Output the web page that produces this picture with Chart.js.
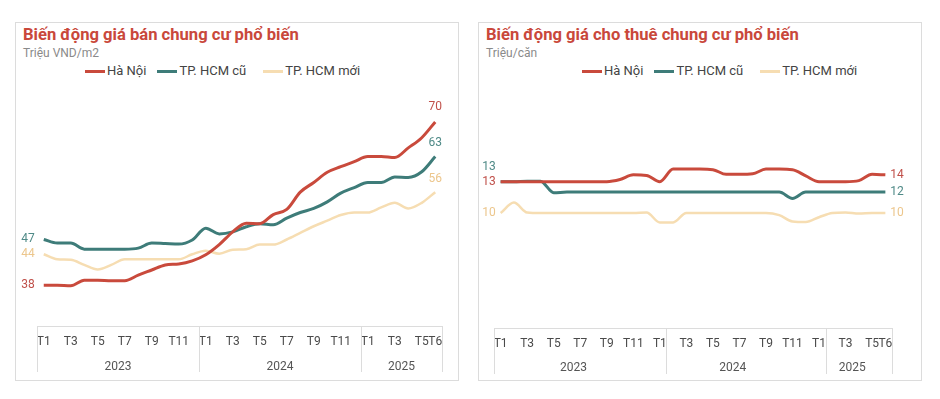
<!DOCTYPE html>
<html lang="vi">
<head>
<meta charset="utf-8">
<script src="https://cdn.jsdelivr.net/npm/chart.js@4.4.1/dist/chart.umd.min.js"></script>
<style>
  body { margin: 0; background: #fff; font-family: Roboto, sans-serif; }
  .panel { position: absolute; top: 22px; width: 444px; height: 359px; border: 1px solid #dcdcdc; box-sizing: border-box; }
  .panel canvas { position: absolute; left: 0; top: 0; }
  .title { position: absolute; left: 7px; top: 2px; font-size: 16.6px; font-weight: bold; color: #c9483b; white-space: nowrap; }
  .sub { position: absolute; left: 7px; top: 23px; font-size: 12px; color: #8a8a8a; white-space: nowrap; }
  .legend { position: absolute; top: 40px; display: flex; align-items: center; font-size: 13px; line-height: 16px; color: #444; white-space: nowrap; }
  .legend .item { display: flex; align-items: center; }
  .legend .item:nth-child(1) { margin-right: 11px; }
  .legend .item:nth-child(2) { margin-right: 17px; }
  .legend .key { display: inline-block; width: 20px; height: 3px; margin-right: 2px; }
</style>
</head>
<body>
<div class="panel" style="left:15px">
  <div class="title">Biến động giá bán chung cư phổ biến</div>
  <div class="sub">Triệu VND/m2</div>
  <div class="legend" id="leg1" style="left:69px"></div>
  <canvas id="sale" width="442" height="357"></canvas>
</div>
<div class="panel" style="left:478px">
  <div class="title">Biến động giá cho thuê chung cư phổ biến</div>
  <div class="sub">Triệu/căn</div>
  <div class="legend" id="leg2" style="left:103px"></div>
  <canvas id="rent" width="442" height="357"></canvas>
</div>
<script>
Chart.defaults.font.family = 'Roboto, sans-serif';

const categories = [
  'T1/2023', 'T2/2023', 'T3/2023', 'T4/2023', 'T5/2023', 'T6/2023', 'T7/2023', 'T8/2023', 'T9/2023', 'T10/2023', 'T11/2023', 'T12/2023',
  'T1/2024', 'T2/2024', 'T3/2024', 'T4/2024', 'T5/2024', 'T6/2024', 'T7/2024', 'T8/2024', 'T9/2024', 'T10/2024', 'T11/2024', 'T12/2024',
  'T1/2025', 'T2/2025', 'T3/2025', 'T4/2025', 'T5/2025', 'T6/2025'
];
const tickLabels = [
  'T1', '', 'T3', '', 'T5', '', 'T7', '', 'T9', '', 'T11', '',
  'T1', '', 'T3', '', 'T5', '', 'T7', '', 'T9', '', 'T11', '',
  'T1', '', 'T3', '', 'T5', 'T6'
];
const years = ['2023', '2024', '2025'];
const yearStart = [0, 12, 24];
const seriesNames = ['Hà Nội', 'TP. HCM cũ', 'TP. HCM mới'];
const lineColors = ['#c94a3c', '#3e7c79', '#f6ddb2'];
const labelColors = ['#c0504a', '#4f8a87', '#ecc68c'];

// gia ban, trieu VND/m2
const saleHN     = [38.0, 38.0, 37.9, 39.0, 39.0, 38.9, 38.9, 40.0, 41.0, 42.0, 42.2, 42.8, 44.0, 46.0, 48.5, 50.2, 50.1, 51.9, 52.9, 56.3, 58.2, 60.2, 61.3, 62.3, 63.3, 63.3, 63.1, 65.0, 67.0, 70.1];
const saleHCMOld = [47.0, 46.3, 46.3, 45.1, 45.1, 45.1, 45.1, 45.3, 46.3, 46.2, 46.1, 46.9, 49.2, 48.1, 48.5, 49.5, 50.1, 49.9, 51.2, 52.3, 53.1, 54.4, 56.1, 57.2, 58.2, 58.2, 59.3, 59.2, 60.3, 63.3];
const saleHCMNew = [44.1, 43.1, 43.0, 42.0, 41.1, 42.0, 43.1, 43.1, 43.1, 43.1, 43.1, 44.1, 44.8, 44.2, 45.0, 45.1, 46.0, 46.0, 47.0, 48.3, 49.6, 50.7, 51.8, 52.3, 52.3, 53.3, 54.2, 53.1, 54.2, 56.3];

// gia thue, trieu/can
const rentHN     = [13.0, 13.0, 13.0, 13.0, 13.0, 13.0, 13.0, 13.0, 13.0, 13.2, 13.65, 13.6, 13.0, 14.2, 14.2, 14.2, 14.15, 13.7, 13.7, 13.75, 14.2, 14.2, 14.15, 13.55, 13.0, 13.0, 13.0, 13.1, 13.7, 13.65];
const rentHCMOld = [13.0, 13.0, 13.05, 13.05, 11.95, 12.0, 12.0, 12.0, 12.0, 12.0, 12.0, 12.0, 12.0, 12.0, 12.0, 12.0, 12.0, 12.0, 12.0, 12.0, 12.0, 12.0, 11.4, 12.0, 12.0, 12.0, 12.0, 12.0, 12.0, 12.0];
const rentHCMNew = [10.0, 11.0, 10.05, 10.0, 10.0, 10.0, 10.0, 10.0, 10.0, 10.0, 10.0, 10.05, 9.1, 9.1, 10.0, 10.0, 10.0, 10.0, 10.0, 10.0, 10.0, 9.8, 9.2, 9.15, 9.6, 10.0, 10.05, 9.95, 10.0, 10.0];

function buildLegend(id) {
  const el = document.getElementById(id);
  seriesNames.forEach((name, i) => {
    const item = document.createElement('div');
    item.className = 'item';
    item.innerHTML = '<span class="key" style="background:' + lineColors[i] + '"></span>' + name;
    el.appendChild(item);
  });
}
buildLegend('leg1');
buildLegend('leg2');

// month row is the x axis ticks, year row drawn here under it
const yearAxis = {
  id: 'yearAxis',
  afterDraw(chart, args, opts) {
    const x = chart.scales.x, ctx = chart.ctx, area = chart.chartArea;
    const n = categories.length;
    const edge = k => k <= 0 ? area.left : k >= n ? area.right : (x.getPixelForValue(k - 1) + x.getPixelForValue(k)) / 2;
    ctx.save();
    ctx.strokeStyle = '#dcdcdc';
    ctx.lineWidth = 1;
    const seps = [0, ...yearStart.slice(1).map(s => s + opts.shift), n];
    seps.forEach(k => {
      const px = Math.round(edge(k)) + 0.5;
      ctx.beginPath();
      ctx.moveTo(px, area.bottom);
      ctx.lineTo(px, area.bottom + opts.depth);
      ctx.stroke();
    });
    ctx.fillStyle = '#555';
    ctx.font = '12px Roboto';
    ctx.textAlign = 'center';
    ctx.textBaseline = 'middle';
    years.forEach((y, i) => {
      const a = edge(yearStart[i]);
      const b = edge(i + 1 < yearStart.length ? yearStart[i + 1] : n);
      ctx.fillText(y, (a + b) / 2, area.bottom + opts.textY);
    });
    ctx.restore();
  }
};

// first / last value labels next to the lines
const valueLabels = {
  id: 'valueLabels',
  afterDatasetsDraw(chart, args, opts) {
    const ctx = chart.ctx;
    ctx.save();
    ctx.font = '12px Roboto';
    ctx.textBaseline = 'middle';
    opts.items.forEach(it => {
      const ds = chart.data.datasets[it.ds];
      const idx = it.at === 'first' ? 0 : ds.data.length - 1;
      const pt = chart.getDatasetMeta(it.ds).data[idx];
      const txt = String(Math.round(ds.data[idx]));
      ctx.fillStyle = labelColors[it.ds];
      let x = pt.x, y = pt.y + (it.dy || 0);
      if (it.pos === 'left') { ctx.textAlign = 'right'; x -= it.gap; }
      else if (it.pos === 'right') { ctx.textAlign = 'left'; x += it.gap; }
      else { ctx.textAlign = 'center'; y -= it.gap; }
      ctx.fillText(txt, x, y);
    });
    ctx.restore();
  }
};

function makeChart(id, series, yMin, yMax, pad, xHeight, yearOpts, labelItems) {
  return new Chart(document.getElementById(id), {
    type: 'line',
    data: {
      labels: categories,
      datasets: series.map((d, i) => ({
        label: seriesNames[i],
        data: d,
        borderColor: lineColors[i],
        borderWidth: i === 2 ? 2.5 : 3,
        pointRadius: 0,
        tension: 0.3,
        cubicInterpolationMode: 'monotone'
      }))
    },
    options: {
      responsive: false,
      animation: false,
      layout: { padding: pad },
      plugins: {
        legend: { display: false },
        tooltip: { enabled: false },
        yearAxis: yearOpts,
        valueLabels: { items: labelItems }
      },
      scales: {
        x: {
          offset: true,
          grid: { display: false, drawTicks: false },
          border: { display: true, color: '#dcdcdc' },
          ticks: {
            autoSkip: false, maxRotation: 0, padding: 9, color: '#4a4a4a',
            font: { size: 12 },
            callback: (v, i) => tickLabels[i]
          },
          afterFit: s => { s.height = xHeight; }
        },
        y: { display: false, min: yMin, max: yMax }
      }
    },
    plugins: [yearAxis, valueLabels]
  });
}

makeChart('sale', [saleHN, saleHCMOld, saleHCMNew], 30, 75,
  { left: 21, right: 16, top: 74, bottom: 24 }, 30,
  { shift: 0, depth: 46, textY: 41 },
  [
    { ds: 0, at: 'first', pos: 'left', gap: 9 },
    { ds: 1, at: 'first', pos: 'left', gap: 9 },
    { ds: 2, at: 'first', pos: 'left', gap: 9 },
    { ds: 0, at: 'last', pos: 'above', gap: 15 },
    { ds: 1, at: 'last', pos: 'above', gap: 14 },
    { ds: 2, at: 'last', pos: 'above', gap: 13 }
  ]);

makeChart('rent', [rentHN, rentHCMOld, rentHCMNew], -1, 20,
  { left: 15, right: 29, top: 85.5, bottom: 22 }, 30,
  { shift: 1, depth: 46, textY: 40 },
  [
    { ds: 0, at: 'first', pos: 'left', gap: 5 },
    { ds: 1, at: 'first', pos: 'left', gap: 5, dy: -15 },
    { ds: 2, at: 'first', pos: 'left', gap: 5 },
    { ds: 0, at: 'last', pos: 'right', gap: 5 },
    { ds: 1, at: 'last', pos: 'right', gap: 5 },
    { ds: 2, at: 'last', pos: 'right', gap: 5 }
  ]);
</script>
</body>
</html>
